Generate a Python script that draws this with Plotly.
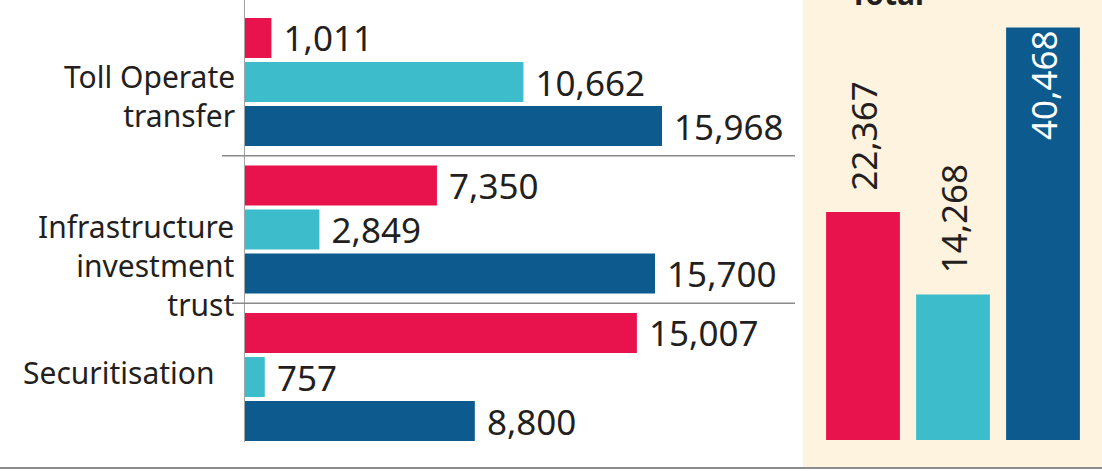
import plotly.graph_objects as go

W, H = 1102, 471

categories = ["Toll Operate<br>transfer", "Infrastructure<br>investment<br>trust", "Securitisation"]
series_names = ["Series A", "Series B", "Series C"]
values_a = [1011, 7350, 15007]
values_b = [10662, 2849, 757]
values_c = [15968, 15700, 8800]
totals = [22367, 14268, 40468]
colors = ["#E8124C", "#3DBCCB", "#0D5A8E"]

FONT = "Noto Sans"
DARK = "#231F20"
NUM_SIZE = 35
LAB_SIZE = 30

fig = go.Figure()
for name, vals, col in zip(series_names, [values_a, values_b, values_c], colors):
    fig.add_trace(go.Bar(
        y=categories, x=vals, orientation="h", name=name,
        marker=dict(color=col, line=dict(width=0)),
        texttemplate="\u00a0%{x:,}", textposition="outside",
        textfont=dict(family=FONT, size=NUM_SIZE, color=DARK),
        constraintext="none", cliponaxis=False,
        xaxis="x", yaxis="y", showlegend=False,
    ))

fig.add_trace(go.Bar(
    x=series_names, y=totals,
    marker=dict(color=colors, line=dict(width=0)),
    width=0.82,
    texttemplate="\u00a0\u00a0%{y:,}",
    textposition=["outside", "outside", "inside"],
    insidetextanchor="end",
    textangle=-90,
    outsidetextfont=dict(family=FONT, size=NUM_SIZE, color=DARK),
    insidetextfont=dict(family=FONT, size=NUM_SIZE, color="white"),
    constraintext="none", cliponaxis=False,
    xaxis="x2", yaxis="y2", showlegend=False,
))

px_per_unit_left = 417 / 15968
left_x0 = 245
left_x1 = 793
px_per_cat = 147.5
top_center = 82
y_bottom_px = 445
y_top_val = -top_center / px_per_cat
y_bot_val = 2 + (y_bottom_px - 377) / px_per_cat

right_scale = 228 / 22367
right_bottom_px = 440

fig.update_layout(
    width=W, height=H,
    margin=dict(l=0, r=0, t=0, b=0),
    paper_bgcolor="white", plot_bgcolor="rgba(0,0,0,0)",
    barmode="group", bargap=0.105, bargroupgap=0.09,
    font=dict(family=FONT, color=DARK),
    xaxis=dict(domain=[left_x0 / W, left_x1 / W],
               range=[0, (left_x1 - left_x0) / px_per_unit_left],
               visible=False, fixedrange=True),
    yaxis=dict(domain=[1 - y_bottom_px / H, 1], type="category",
               categoryorder="array", categoryarray=categories,
               range=[y_bot_val, y_top_val],
               showticklabels=False, showgrid=False, zeroline=False,
               showline=False, anchor="x"),
    xaxis2=dict(domain=[818 / W, 1088 / W], range=[-0.5, 2.5],
                visible=False, anchor="y2"),
    yaxis2=dict(domain=[1 - right_bottom_px / H, 1],
                range=[0, right_bottom_px / right_scale],
                visible=False, anchor="x2"),
)

shapes = [
    dict(type="rect", xref="paper", yref="paper", x0=803 / W, x1=1, y0=1 - 467 / H, y1=1,
         fillcolor="#FDF3DE", line=dict(width=0), layer="below"),
    dict(type="line", xref="paper", yref="paper", x0=left_x0 / W - 0.0005, x1=left_x0 / W - 0.0005,
         y0=1 - 442 / H, y1=1, line=dict(color="#A0A0A0", width=1), layer="below"),
    dict(type="line", xref="paper", yref="y", x0=222 / W, x1=795 / W, y0=0.5, y1=0.5,
         line=dict(color="#8A8A8A", width=1.5)),
    dict(type="line", xref="paper", yref="y", x0=232 / W, x1=795 / W, y0=1.5, y1=1.5,
         line=dict(color="#8A8A8A", width=1.5)),
    dict(type="line", xref="paper", yref="paper", x0=0, x1=1, y0=1 - 468 / H, y1=1 - 468 / H,
         line=dict(color="#8C8C8C", width=2)),
]
fig.update_layout(shapes=shapes)

annotations = []
label_pos = [(96, 237), (265, 236), (372, 217)]
for cat, (ypx, xpx) in zip(categories, label_pos):
    annotations.append(dict(
        text=cat, xref="paper", yref="paper", x=xpx / W, y=1 - ypx / H,
        xanchor="right", yanchor="middle", align="right", showarrow=False,
        font=dict(family=FONT, size=LAB_SIZE, color=DARK),
    ))
annotations.append(dict(
    text="<b>Total</b>", xref="paper", yref="paper", x=887 / W, y=1 - 16 / H,
    xanchor="center", yanchor="bottom", showarrow=False,
    font=dict(family=FONT, size=30, color=DARK),
))
fig.update_layout(annotations=annotations)

fig.write_html("out.html")
